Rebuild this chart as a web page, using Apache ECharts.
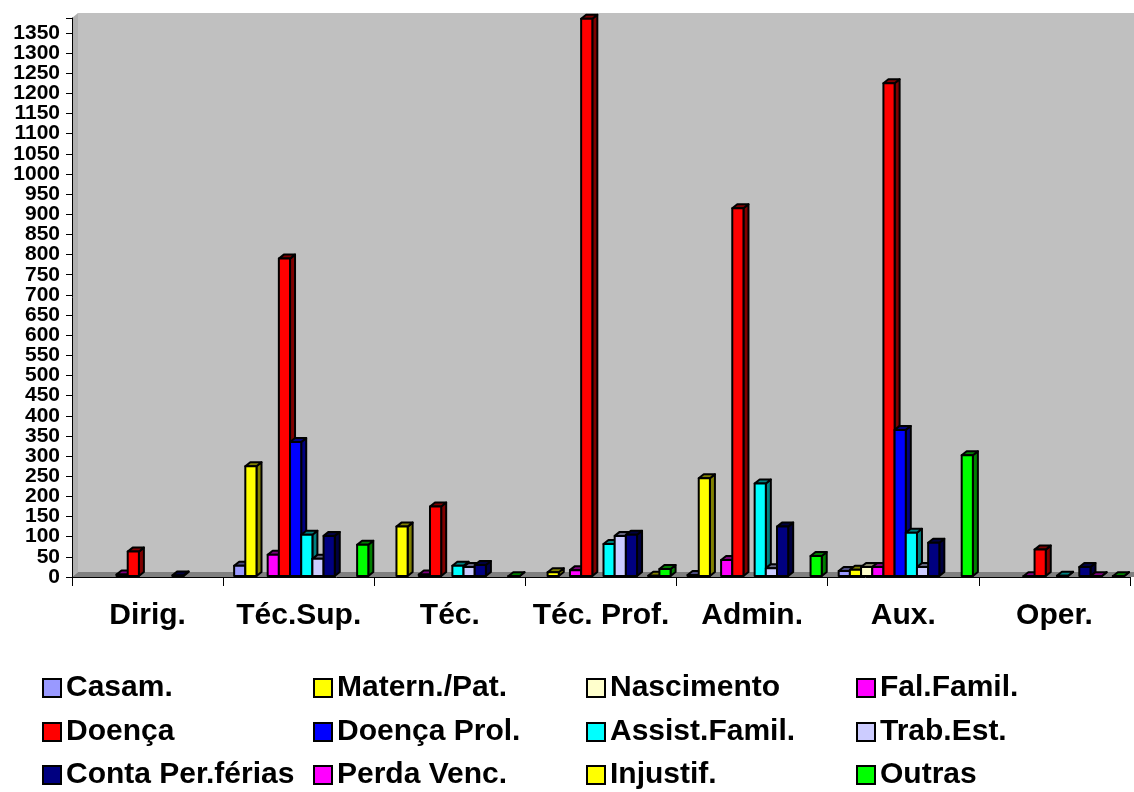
<!DOCTYPE html>
<html>
<head>
<meta charset="utf-8">
<script src="https://cdn.jsdelivr.net/npm/echarts@6/dist/echarts.min.js"></script>
<style>
  html, body { margin: 0; padding: 0; background: #fff; }
  #chart { width: 1134px; height: 792px; }
</style>
</head>
<body>
<div id="chart"></div>
<script>
// categorias (carreiras)
var categories = ['Dirig.', 'Téc.Sup.', 'Téc.', 'Téc. Prof.', 'Admin.', 'Aux.', 'Oper.'];

// dias de ausência por motivo
var casam       = [0, 28, 0, 0, 5, 15, 0];
var matern      = [0, 275, 125, 12, 245, 18, 0];
var nascimento  = [0, 0, 0, 0, 0, 25, 0];
var falFamil    = [6, 55, 6, 17, 42, 25, 2];
var doenca      = [63, 790, 175, 1385, 915, 1225, 68];
var doencaProl  = [0, 335, 0, 0, 0, 365, 0];
var assistFamil = [0, 105, 28, 82, 232, 110, 3];
var trabEst     = [0, 45, 25, 102, 22, 25, 0];
var contaFerias = [4, 102, 30, 105, 125, 85, 25];
var perdaVenc   = [0, 0, 0, 0, 0, 0, 2];
var injustif    = [0, 0, 0, 3, 0, 0, 0];
var outras      = [0, 80, 2, 20, 52, 302, 2];

var FONT = "'Liberation Sans', Arial, sans-serif";

var defs = [
  { name: 'Casam.', data: casam, color: '#9999FF' },
  { name: 'Matern./Pat.', data: matern, color: '#FFFF00' },
  { name: 'Nascimento', data: nascimento, color: '#FFFFCC' },
  { name: 'Fal.Famil.', data: falFamil, color: '#FF00FF' },
  { name: 'Doença', data: doenca, color: '#FF0000' },
  { name: 'Doença Prol.', data: doencaProl, color: '#0000FF' },
  { name: 'Assist.Famil.', data: assistFamil, color: '#00FFFF' },
  { name: 'Trab.Est.', data: trabEst, color: '#CCCCFF' },
  { name: 'Conta Per.férias', data: contaFerias, color: '#000080' },
  { name: 'Perda Venc.', data: perdaVenc, color: '#FF00FF' },
  { name: 'Injustif.', data: injustif, color: '#FFFF00' },
  { name: 'Outras', data: outras, color: '#00FF00' }
];

// pseudo 3D
var BAR_FRAC = 11.17 / 151;
var SHIFT = 2.5 / 151;
var DX = 5, DY = 4;
var Y_MAX = 1387;

function shade(hex, k) {
  var n = parseInt(hex.slice(1), 16);
  var r = Math.round(((n >> 16) & 255) * k);
  var g = Math.round(((n >> 8) & 255) * k);
  var b = Math.round((n & 255) * k);
  return 'rgb(' + r + ',' + g + ',' + b + ')';
}

function make3d(idx, color) {
  var dark = shade(color, 0.5);
  return function (params, api) {
    var v = api.value(1);
    if (!v) return null;
    var c = api.value(0);
    var band = api.size([1, 0])[0];
    var bw = band * BAR_FRAC;
    var base = api.coord([c, 0]);
    var top = api.coord([c, v]);
    var x0 = base[0] + band * SHIFT + (idx - 6) * bw;
    var x1 = x0 + bw;
    var y0 = base[1] - 1, y1 = top[1];
    var st = { stroke: '#000', lineWidth: 2, lineJoin: 'round' };
    return {
      type: 'group',
      children: [
        { type: 'polygon', shape: { points: [[x1, y0], [x1 + DX, y0 - DY], [x1 + DX, y1 - DY], [x1, y1]] },
          style: Object.assign({ fill: dark }, st) },
        { type: 'polygon', shape: { points: [[x0, y1], [x0 + DX, y1 - DY], [x1 + DX, y1 - DY], [x1, y1]] },
          style: Object.assign({ fill: dark }, st) },
        { type: 'rect', shape: { x: x0, y: y1, width: bw, height: y0 - y1 },
          style: Object.assign({ fill: color }, st) }
      ]
    };
  };
}

var series = defs.map(function (d, i) {
  return {
    type: 'custom',
    name: d.name,
    itemStyle: { color: d.color },
    encode: { x: 0, y: 1 },
    renderItem: make3d(i, d.color),
    data: d.data.map(function (v, j) { return [j, v]; })
  };
});

// legenda: 4 colunas x 3 linhas
var colLeft = [42, 313, 586, 856];
var rowTop = [673, 717, 760];
var legends = defs.map(function (d, i) {
  return {
    left: colLeft[i % 4],
    top: rowTop[Math.floor(i / 4)],
    padding: 0,
    icon: 'rect',
    itemWidth: 18,
    itemHeight: 18,
    selectedMode: false,
    itemStyle: { borderColor: '#000', borderWidth: 2 },
    textStyle: { fontFamily: FONT, fontWeight: 'bold', fontSize: 30, color: '#000', lineHeight: 29 },
    data: [d.name]
  };
});

var yLabel = { fontFamily: FONT, fontWeight: 'bold', fontSize: 21, color: '#000', margin: 12 };

var chart = echarts.init(document.getElementById('chart'), null, { renderer: 'canvas' });
chart.setOption({
  backgroundColor: '#fff',
  animation: false,
  grid: { left: 72, right: 4, top: 18, bottom: 215 },
  graphic: [
    { type: 'polygon', z: -1, shape: { points: [[78, 13], [1134, 13], [1134, 572], [78, 572]] },
      style: { fill: '#C0C0C0' } },
    { type: 'polygon', z: -1, shape: { points: [[72, 577], [72, 18], [78, 13], [78, 572]] },
      style: { fill: '#B0B0B0' } },
    { type: 'polygon', z: -1, shape: { points: [[72, 577], [78, 572], [1134, 572], [1134, 577]] },
      style: { fill: '#808080' } }
  ],
  legend: legends,
  xAxis: {
    type: 'category',
    data: categories,
    boundaryGap: true,
    axisLine: { lineStyle: { color: '#000', width: 1 } },
    axisTick: { show: true, length: 9, alignWithLabel: false, lineStyle: { color: '#000' } },
    axisLabel: { fontFamily: FONT, fontWeight: 'bold', fontSize: 30, color: '#000', margin: 24, interval: 0 },
    splitLine: { show: false }
  },
  yAxis: [
    {
      type: 'value',
      min: 0,
      max: Y_MAX,
      interval: 50,
      axisLine: { show: true, lineStyle: { color: '#000', width: 1 } },
      axisTick: { show: true, length: 6, lineStyle: { color: '#000' } },
      axisLabel: Object.assign({
        showMinLabel: false, hideOverlap: false,
        formatter: function (v) { return v % 50 === 0 ? String(v) : ''; }
      }, yLabel),
      splitLine: { show: false }
    },
    {
      // só o rótulo "0" (o eixo principal esconde-o por sobreposição)
      type: 'value',
      position: 'left',
      min: 0,
      max: Y_MAX,
      interval: Y_MAX,
      axisLine: { show: false },
      axisTick: { show: true, length: 6, lineStyle: { color: '#000' } },
      axisLabel: Object.assign({
        showMinLabel: true, showMaxLabel: false,
        formatter: function (v) { return v === 0 ? '0' : ''; }
      }, yLabel),
      splitLine: { show: false }
    }
  ],
  series: series
});
</script>
</body>
</html>
